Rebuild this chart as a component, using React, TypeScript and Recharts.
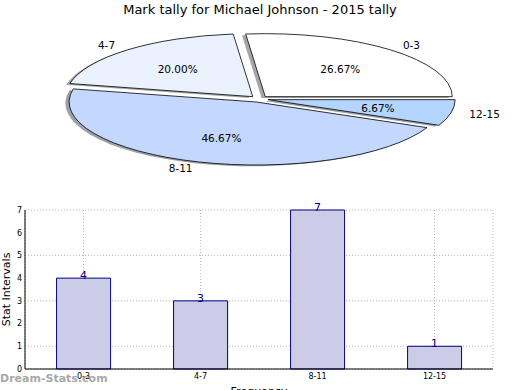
import React from 'react';
import { PieChart, Pie, BarChart, Bar, XAxis, YAxis, CartesianGrid, LabelList, Cell } from 'recharts';

const categories = ['0-3', '4-7', '8-11', '12-15'];
const counts = [4, 3, 7, 1];
const sliceColors = ['#ffffff', '#eaf1ff', '#c4d8ff', '#b4d5ff'];
const yTicks = [0, 1, 2, 3, 4, 5, 6, 7];

const pieData = categories.map((c, i) => ({ name: c, value: counts[i] }));
const barData = categories.map((c, i) => ({ name: c, value: counts[i] }));

const RX = 187;
const RY = 63;
const EXPLODE = 0.05;
const FONT = 'DejaVu Sans, sans-serif';

const rad = (a: number) => (a * Math.PI) / 180;

function ellPath(cx: number, cy: number, sa: number, ea: number) {
  const p = (a: number) => [cx + RX * Math.cos(rad(a)), cy - RY * Math.sin(rad(a))];
  const [x1, y1] = p(sa);
  const [x2, y2] = p(ea);
  const large = Math.abs(ea - sa) > 180 ? 1 : 0;
  return `M${cx},${cy} L${x1},${y1} A${RX},${RY} 0 ${large} 0 ${x2},${y2} Z`;
}

function shade(hex: string) {
  const n = parseInt(hex.slice(1), 16);
  const r = Math.round(((n >> 16) & 255) * 0.3);
  const g = Math.round(((n >> 8) & 255) * 0.3);
  const b = Math.round((n & 255) * 0.3);
  return `rgb(${r},${g},${b})`;
}

const explodeCenter = (cx: number, cy: number, mid: number) => [
  cx + EXPLODE * RX * Math.cos(rad(mid)),
  cy - EXPLODE * RY * Math.sin(rad(mid)),
];

const MainSlice = (props: any) => {
  const { cx, cy, startAngle, endAngle, fill } = props;
  const mid = (startAngle + endAngle) / 2;
  const [ex, ey] = explodeCenter(cx, cy, mid);
  return <path d={ellPath(ex, ey, startAngle, endAngle)} fill={fill} stroke="#000" strokeWidth={0.8} strokeLinejoin="round" />;
};

const ShadowSlice = (props: any) => {
  const { cx, cy, startAngle, endAngle, fill } = props;
  const mid = (startAngle + endAngle) / 2;
  const [ex, ey] = explodeCenter(cx, cy, mid);
  return <path d={ellPath(ex - 0.02 * RX, ey + 0.02 * RY, startAngle, endAngle)} fill={shade(fill)} fillOpacity={0.5} stroke="none" />;
};

const renderLabel = (props: any) => {
  const { cx, cy, midAngle, percent, name } = props;
  const [ex, ey] = explodeCenter(cx, cy, midAngle);
  const c = Math.cos(rad(midAngle));
  const s = Math.sin(rad(midAngle));
  const lx = ex + 1.1 * RX * c;
  const ly = ey - 1.1 * RY * s;
  const px = ex + 0.6 * RX * c;
  const py = ey - 0.6 * RY * s;
  return (
    <g>
      <text x={lx} y={ly} textAnchor={c >= 0 ? 'start' : 'end'} dominantBaseline="central" fontFamily={FONT} fontSize={10.5} fill="#000">
        {name}
      </text>
      <text x={px} y={py} textAnchor="middle" dominantBaseline="central" fontFamily={FONT} fontSize={10.5} fill="#000">
        {(percent * 100).toFixed(2)}%
      </text>
    </g>
  );
};

export default function App() {
  return (
    <div style={{ position: 'absolute', left: 0, top: 0, width: 520, height: 390, background: '#fff', overflow: 'hidden' }}>
      <div style={{ position: 'absolute', left: 0, top: 2, width: 520, textAlign: 'center', fontFamily: FONT, fontSize: 13, color: '#000' }}>
        Mark tally for Michael Johnson - 2015 tally
      </div>
      <div style={{ position: 'absolute', left: 0, top: 0 }}>
        <PieChart width={520} height={200} margin={{ top: 0, right: 0, bottom: 0, left: 0 }}>
          <Pie data={pieData} dataKey="value" nameKey="name" cx={259} cy={99} outerRadius={RX} startAngle={0} endAngle={360}
            shape={ShadowSlice} isAnimationActive={false} label={false} labelLine={false} stroke="none">
            {pieData.map((d, i) => <Cell key={d.name} fill={sliceColors[i]} />)}
          </Pie>
          <Pie data={pieData} dataKey="value" nameKey="name" cx={259} cy={99} outerRadius={RX} startAngle={0} endAngle={360}
            shape={MainSlice} isAnimationActive={false} label={renderLabel} labelLine={false}>
            {pieData.map((d, i) => <Cell key={d.name} fill={sliceColors[i]} />)}
          </Pie>
        </PieChart>
      </div>
      <div style={{ position: 'absolute', left: 0, top: 200 }}>
        <BarChart width={520} height={190} data={barData} margin={{ top: 10, right: 27, bottom: 0, left: 0 }} barCategoryGap="27%">
          <CartesianGrid stroke="#b8b8b8" strokeDasharray="1 2" vertical horizontal />
          <XAxis dataKey="name" height={21} tickLine={false} tickSize={0} tickMargin={4} axisLine={{ stroke: '#000' }} tick={{ fontSize: 8, fill: '#000', fontFamily: FONT }}
            label={{ value: 'Frequency', position: 'insideBottom', offset: -5, fontSize: 11, fill: '#000', fontFamily: FONT }} />
          <XAxis xAxisId="top" dataKey="name" orientation="top" height={0} tick={false} tickLine={false} axisLine={{ stroke: '#000' }} />
          <YAxis domain={[0, 7]} ticks={yTicks} width={25} tickLine={false} tickSize={0} tickMargin={3} axisLine={{ stroke: '#000' }} tick={{ fontSize: 8, fill: '#000', fontFamily: FONT }}
            label={{ value: 'Stat Intervals', angle: -90, position: 'insideLeft', offset: 6, fontSize: 11, fill: '#000', fontFamily: FONT, style: { textAnchor: 'middle' } }} />
          <YAxis yAxisId="right" orientation="right" width={0} tick={false} tickLine={false} axisLine={{ stroke: '#000' }} domain={[0, 7]} />
          <Bar dataKey="value" fill="#ccccE6" stroke="#000080" strokeWidth={1} isAnimationActive={false}>
            <LabelList dataKey="value" position="top" offset={-1} fill="#000080" fontSize={11} fontFamily={FONT} />
          </Bar>
        </BarChart>
      </div>
      <div style={{ position: 'absolute', left: 0, top: 372, fontFamily: FONT, fontSize: 11, fontWeight: 'bold', color: '#a8a8a8' }}>
        Dream-Stats.com
      </div>
    </div>
  );
}
